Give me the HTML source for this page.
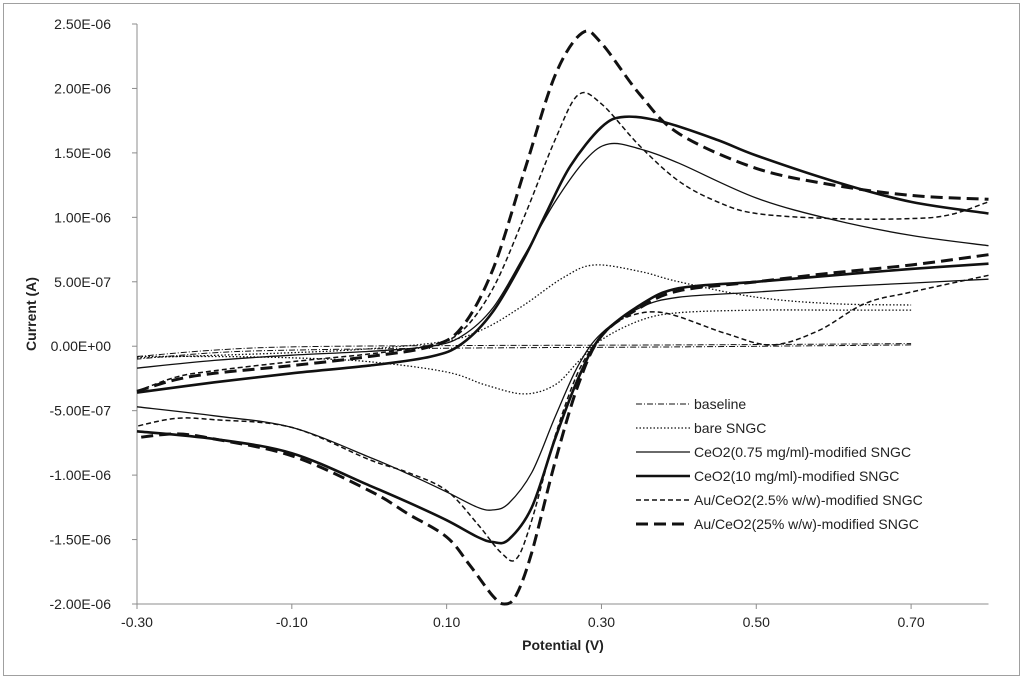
<!DOCTYPE html>
<html><head><meta charset="utf-8"><style>
html,body{margin:0;padding:0;background:#fff;}
svg text{font-family:"Liberation Sans",Arial,sans-serif;fill:#222;}
</style></head><body>
<svg id="chart" width="1024" height="679" viewBox="0 0 1024 679" xmlns="http://www.w3.org/2000/svg">
<rect x="3.5" y="3.5" width="1016" height="672" fill="#fff" stroke="#a0a0a0" stroke-width="1"/>
<g id="axes"></g>
<g id="series"></g>
<g id="legend"></g>
<text x="0" y="0" transform="translate(36,314) rotate(-90)" text-anchor="middle" font-size="14" font-weight="bold">Current (A)</text>
<text x="563" y="650" text-anchor="middle" font-size="14" font-weight="bold">Potential (V)</text>
</svg>
<script>
const xTicks = [-0.30,-0.10,0.10,0.30,0.50,0.70];
const xTickLabels = ["-0.30","-0.10","0.10","0.30","0.50","0.70"];
const yTicks = [2.5,2.0,1.5,1.0,0.5,0,-0.5,-1.0,-1.5,-2.0];
const yTickLabels = ["2.50E-06","2.00E-06","1.50E-06","1.00E-06","5.00E-07","0.00E+00","-5.00E-07","-1.00E-06","-1.50E-06","-2.00E-06"];
const seriesNames = ["baseline","bare SNGC","CeO2(0.75 mg/ml)-modified SNGC","CeO2(10 mg/ml)-modified SNGC","Au/CeO2(2.5% w/w)-modified SNGC","Au/CeO2(25% w/w)-modified SNGC"];
// currents in microamps; forward (F) and reverse (R) scans
const baseFV = [-0.3,-0.2,-0.1,0.1,0.4,0.7];
const baseFI = [-0.08,-0.03,-0.005,0.005,0.01,0.02];
const baseRV = [0.7,0.4,0.1,-0.1,-0.2,-0.3];
const baseRI = [0.01,-0.005,-0.015,-0.03,-0.05,-0.1];
const bareFV = [-0.3,-0.1,0,0.1,0.15,0.2,0.25,0.29,0.35,0.4,0.5,0.6,0.7];
const bareFI = [-0.09,-0.05,-0.02,0.04,0.14,0.32,0.53,0.63,0.58,0.5,0.38,0.33,0.32];
const bareRV = [0.7,0.6,0.5,0.4,0.35,0.3,0.27,0.24,0.2,0.15,0.1,0,-0.1,-0.2,-0.3];
const bareRI = [0.28,0.28,0.28,0.26,0.2,0.05,-0.12,-0.3,-0.37,-0.3,-0.2,-0.12,-0.09,-0.08,-0.08];
const c075FV = [-0.3,-0.2,-0.1,0,0.08,0.12,0.16,0.2,0.24,0.28,0.31,0.35,0.4,0.5,0.6,0.7,0.8];
const c075FI = [-0.17,-0.11,-0.07,-0.04,0,0.08,0.3,0.7,1.12,1.45,1.57,1.53,1.42,1.15,0.98,0.86,0.78];
const c075RV = [0.8,0.7,0.6,0.5,0.4,0.35,0.3,0.27,0.24,0.21,0.18,0.16,0.14,0.1,0.05,0,-0.1,-0.2,-0.3];
const c075RI = [0.52,0.49,0.46,0.42,0.38,0.3,0.1,-0.15,-0.55,-0.98,-1.22,-1.27,-1.25,-1.13,-0.99,-0.86,-0.63,-0.54,-0.47];
const c10FV = [-0.3,-0.2,-0.1,0,0.08,0.12,0.16,0.2,0.23,0.26,0.3,0.33,0.38,0.45,0.5,0.6,0.7,0.8];
const c10FI = [-0.36,-0.28,-0.21,-0.15,-0.08,0.02,0.27,0.68,1.05,1.4,1.7,1.78,1.74,1.6,1.48,1.28,1.12,1.03];
const c10RV = [0.8,0.7,0.6,0.5,0.4,0.35,0.3,0.27,0.24,0.21,0.18,0.16,0.14,0.1,0.05,0,-0.1,-0.2,-0.3];
const c10RI = [0.64,0.6,0.55,0.5,0.45,0.32,0.08,-0.25,-0.72,-1.25,-1.5,-1.52,-1.48,-1.35,-1.21,-1.08,-0.83,-0.72,-0.66];
const a25FV = [-0.3,-0.25,-0.2,-0.1,0,0.08,0.12,0.16,0.2,0.24,0.27,0.3,0.35,0.4,0.45,0.5,0.6,0.7,0.75,0.8];
const a25FI = [-0.35,-0.24,-0.19,-0.12,-0.06,0.01,0.12,0.45,1.0,1.6,1.95,1.88,1.55,1.28,1.12,1.03,0.99,0.99,1.02,1.12];
const a25RV = [0.8,0.7,0.64,0.58,0.52,0.46,0.38,0.33,0.3,0.27,0.24,0.21,0.19,0.17,0.14,0.1,0.05,0,-0.1,-0.2,-0.25,-0.3];
const a25RI = [0.55,0.42,0.33,0.12,0.01,0.1,0.26,0.22,0.08,-0.2,-0.7,-1.35,-1.65,-1.6,-1.38,-1.12,-0.98,-0.88,-0.63,-0.57,-0.56,-0.62];
const a250FV = [-0.3,-0.25,-0.2,-0.1,0,0.08,0.12,0.16,0.2,0.24,0.275,0.3,0.35,0.4,0.5,0.6,0.7,0.8];
const a250FI = [-0.35,-0.26,-0.21,-0.15,-0.08,0,0.15,0.6,1.35,2.1,2.43,2.35,1.95,1.65,1.38,1.25,1.17,1.14];
const a250RV = [0.8,0.7,0.6,0.5,0.4,0.35,0.3,0.27,0.24,0.21,0.19,0.175,0.16,0.13,0.1,0.05,0,-0.1,-0.2,-0.25,-0.3];
const a250RI = [0.71,0.63,0.57,0.5,0.43,0.3,0.08,-0.3,-0.9,-1.6,-1.93,-2.0,-1.94,-1.7,-1.48,-1.3,-1.12,-0.85,-0.72,-0.68,-0.71];

const NS="http://www.w3.org/2000/svg";
const X0=137,X1=988.5,Y0=604,Y1=24;
function xs(v){return X0+(v+0.3)/1.1*(X1-X0);}
function ys(i){return Y0-(i+2.0)/4.5*(Y0-Y1);}
function mk(tag,attrs,parent){const e=document.createElementNS(NS,tag);for(const k in attrs)e.setAttribute(k,attrs[k]);parent.appendChild(e);return e;}
const axes=document.getElementById('axes');
const la=mk('line',{x1:X0,y1:Y1,x2:X0,y2:Y0,stroke:'#8c8c8c','stroke-width':1},axes);


const ba=mk('line',{x1:X0,y1:Y0,x2:X1,y2:Y0,stroke:'#8c8c8c','stroke-width':1},axes);


yTicks.forEach((t,k)=>{const y=ys(t);
 const tm=mk('line',{x1:X0-5,y1:y,x2:X0,y2:y,stroke:'#8c8c8c'},axes);
 
 
 const tx=mk('text',{x:111,y:y+5,'text-anchor':'end','font-size':14},axes);tx.textContent=yTickLabels[k];
 
 
});
xTicks.forEach((t,k)=>{const x=xs(t);
 const tm=mk('line',{x1:x,y1:Y0,x2:x,y2:Y0+5,stroke:'#8c8c8c'},axes);
 
 
 const tx=mk('text',{x:x,y:627,'text-anchor':'middle','font-size':14},axes);tx.textContent=xTickLabels[k];
 
 
});
function pathFrom(V,I){const p=V.map((v,k)=>[xs(v),ys(I[k])]);
 let d='M'+p[0][0].toFixed(1)+','+p[0][1].toFixed(1);
 for(let k=0;k<p.length-1;k++){
  const a=p[Math.max(0,k-1)],b=p[k],c=p[k+1],e=p[Math.min(p.length-1,k+2)];
  const t=1/6;
  const c1=[b[0]+(c[0]-a[0])*t,b[1]+(c[1]-a[1])*t],c2=[c[0]-(e[0]-b[0])*t,c[1]-(e[1]-b[1])*t];
  d+=' C'+c1.map(n=>n.toFixed(1))+' '+c2.map(n=>n.toFixed(1))+' '+c[0].toFixed(1)+','+c[1].toFixed(1);
 }
 return d;}
const styles=[
 {w:1,dash:'6,2,1,2',name:'baseline-curve'},
 {w:1.3,dash:'1.5,2',name:'bare-sngc-curve'},
 {w:1.3,dash:'',name:'ceo2-075-curve'},
 {w:2.6,dash:'',name:'ceo2-10-curve'},
 {w:1.5,dash:'5,3',name:'au-ceo2-2-5-curve'},
 {w:3,dash:'12,6',name:'au-ceo2-25-curve'}];
const data=[[baseFV,baseFI,baseRV,baseRI],[bareFV,bareFI,bareRV,bareRI],[c075FV,c075FI,c075RV,c075RI],[c10FV,c10FI,c10RV,c10RI],[a25FV,a25FI,a25RV,a25RI],[a250FV,a250FI,a250RV,a250RI]];
const sg=document.getElementById('series');
data.forEach((dd,k)=>{const s=styles[k];
 const pa=mk('path',{d:pathFrom(dd[0],dd[1])+' '+pathFrom(dd[2],dd[3]),fill:'none',stroke:'#111','stroke-width':s.w,'stroke-dasharray':s.dash},sg);
 
 
});
const lg=document.getElementById('legend');
seriesNames.forEach((n,k)=>{const y=404+k*24,s=styles[k];
 const ln=mk('line',{x1:636,y1:y,x2:690,y2:y,stroke:'#111','stroke-width':s.w,'stroke-dasharray':s.dash},lg);
 
 
 const tx=mk('text',{x:694,y:y+5,'font-size':14},lg);tx.textContent=n;
 
 
});
</script>
</body></html>
